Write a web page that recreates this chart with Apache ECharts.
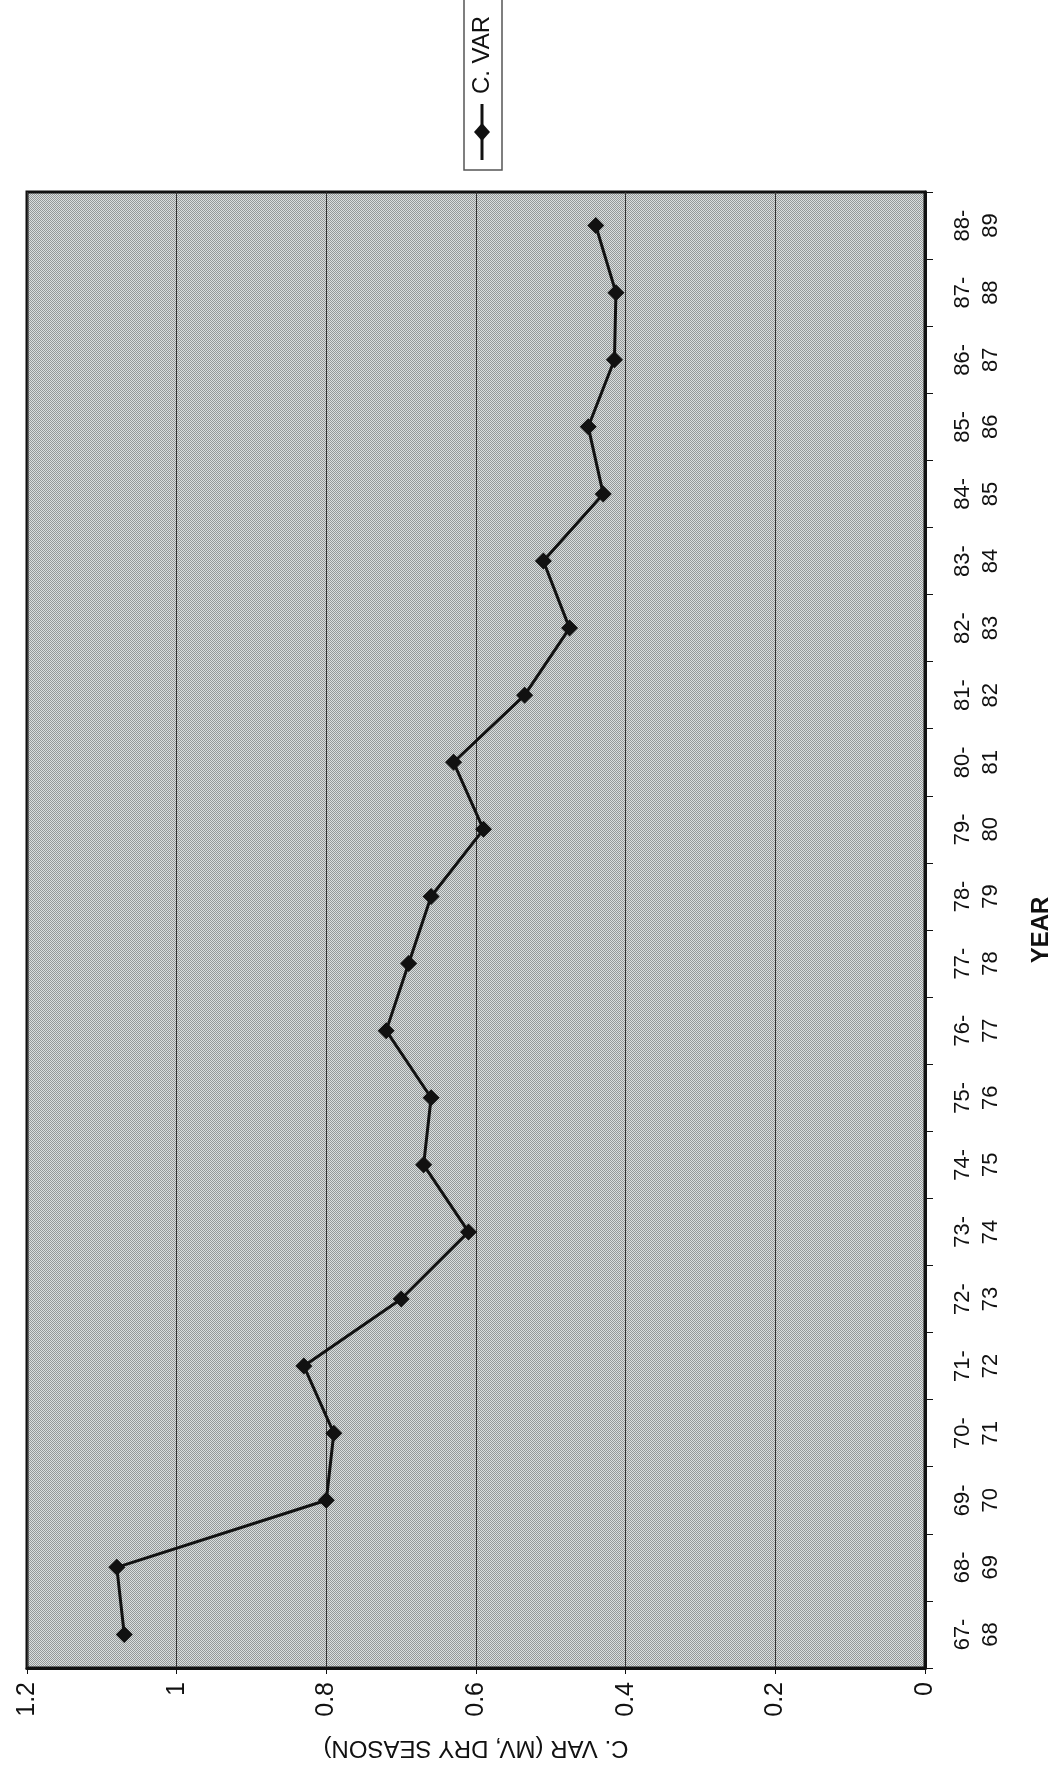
<!DOCTYPE html>
<html>
<head>
<meta charset="utf-8">
<script src="https://cdn.jsdelivr.net/npm/echarts@6/dist/echarts.min.js"></script>
<style>
html,body{margin:0;padding:0;background:#fff;}
#chart{width:1060px;height:1778px;}
</style>
</head>
<body>
<div id="chart"></div>
<script>
const categories = ['67-\n68','68-\n69','69-\n70','70-\n71','71-\n72','72-\n73','73-\n74','74-\n75','75-\n76','76-\n77','77-\n78','78-\n79','79-\n80','80-\n81','81-\n82','82-\n83','83-\n84','84-\n85','85-\n86','86-\n87','87-\n88','88-\n89'];
const cvarValues = [1.07,1.08,0.80,0.79,0.83,0.70,0.61,0.67,0.66,0.72,0.69,0.66,0.59,0.63,0.535,0.475,0.51,0.43,0.45,0.415,0.413,0.44];
const valueTicks = {min:0, max:1.2, interval:0.2};
const seriesName = 'C. VAR';
const xTitle = 'C. VAR (MV, DRY SEASON)';
const yTitle = 'YEAR';

// halftone-like pattern for plot background
const pc = document.createElement('canvas');
pc.width = 2; pc.height = 2;
const pctx = pc.getContext('2d');
pctx.fillStyle = '#dadede'; pctx.fillRect(0,0,2,2);
pctx.fillStyle = '#949898'; pctx.fillRect(0,0,1,1); pctx.fillRect(1,1,1,1);

const chart = echarts.init(document.getElementById('chart'), null, {renderer:'canvas'});
const font = 'Liberation Sans, Arial, sans-serif';
chart.setOption({
  animation:false,
  backgroundColor:'#fff',
  grid:{left:27,right:135,top:192,bottom:110,show:true,borderColor:'#111',borderWidth:3,
        containLabel:false,outerBoundsMode:'none',
        backgroundColor:{image:pc,repeat:'repeat'}},
  xAxis:{type:'value',min:valueTicks.min,max:valueTicks.max,interval:valueTicks.interval,inverse:true,position:'bottom',
    axisLine:{show:true,lineStyle:{color:'#111',width:3}},
    axisTick:{show:true,length:6,lineStyle:{color:'#111',width:1}},
    splitLine:{show:true,lineStyle:{color:'#333',width:1}},
    axisLabel:{rotate:90,fontSize:25,color:'#111',fontFamily:font,margin:14},
    name:xTitle,nameLocation:'middle',nameRotate:180,nameGap:68,
    nameTextStyle:{fontSize:24,color:'#111',fontFamily:font}},
  yAxis:{type:'category',data:categories,position:'right',boundaryGap:true,
    axisLine:{show:true,lineStyle:{color:'#111',width:3}},
    axisTick:{show:true,length:8,lineStyle:{color:'#111',width:1}},
    splitLine:{show:false},
    axisLabel:{rotate:90,fontSize:22,color:'#111',fontFamily:font,lineHeight:28,margin:24},
    name:yTitle,nameLocation:'middle',nameRotate:90,nameGap:104,nameMoveOverlap:false,
    nameTextStyle:{fontSize:24,fontWeight:'bold',color:'#111',fontFamily:font}},
  series:[{name:seriesName,type:'line',data:cvarValues,symbol:'diamond',symbolSize:17,
    itemStyle:{color:'#111'},lineStyle:{color:'#111',width:3}}],
  graphic:[
    {type:'rect',shape:{x:464,y:-2,width:38,height:172},style:{fill:'#fff',stroke:'#555',lineWidth:1.5}},
    {type:'line',shape:{x1:482,y1:104,x2:482,y2:160},style:{stroke:'#111',lineWidth:3}},
    {type:'polygon',shape:{points:[[482,123],[490,132],[482,141],[474,132]]},style:{fill:'#111'}},
    {type:'text',x:482,y:55,rotation:Math.PI/2,style:{text:seriesName,fontSize:24,fontFamily:font,fill:'#111',align:'center',verticalAlign:'middle'}}
  ]
});
</script>
</body>
</html>
